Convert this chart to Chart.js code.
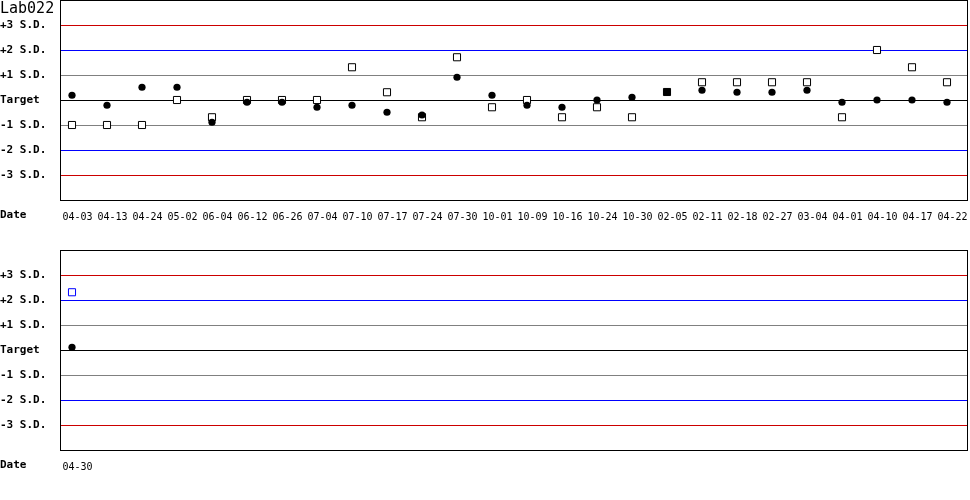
<!DOCTYPE html>
<html>
<head>
<meta charset="utf-8">
<script src="https://cdn.jsdelivr.net/npm/chart.js@4.4.1/dist/chart.umd.min.js"></script>
<style>
  html, body { margin: 0; padding: 0; background: #fff; }
  .box { width: 970px; height: 250px; position: relative; }
  canvas { display: block; }
</style>
</head>
<body>
<div class="box"><canvas id="c1" width="970" height="250"></canvas></div>
<div class="box"><canvas id="c2" width="970" height="250"></canvas></div>
<script>
// ---- data (values in S.D. units) ----
const chartTitle = 'Lab022';
const sdValues = [3, 2, 1, 0, -1, -2, -3];
const sdLabels = ['+3 S.D.', '+2 S.D.', '+1 S.D.', 'Target', '-1 S.D.', '-2 S.D.', '-3 S.D.'];

const datesTop = ['04-03','04-13','04-24','05-02','06-04','06-12','06-26','07-04','07-10','07-17','07-24','07-30','10-01','10-09','10-16','10-24','10-30','02-05','02-11','02-18','02-27','03-04','04-01','04-10','04-17','04-22'];
const level1Top = [0.19,-0.21,0.51,0.51,-0.89,-0.09,-0.09,-0.29,-0.21,-0.49,-0.6,0.91,0.19,-0.21,-0.29,0,0.11,0.32,0.39,0.31,0.31,0.39,-0.09,0,0,-0.09];
const level2Top = [-1,-1,-1,0,-0.69,0,0,0,1.31,0.31,-0.69,1.71,-0.29,0,-0.69,-0.29,-0.69,0.32,0.71,0.71,0.71,0.71,-0.69,2.0,1.31,0.71];

const datesBottom = ['04-30'];
const level1Bottom = [0.11];
const level2Bottom = [2.31];

// ---- drawing ----
const MONO = '"DejaVu Sans Mono", "Liberation Mono", monospace';
function gridColor(v) {
  const a = Math.abs(v);
  if (a === 3) return '#cc0000';
  if (a === 2) return '#0000ff';
  if (a === 1) return '#808080';
  return '#000000';
}

function makeChart(id, dates, l1, l2, opts) {
  const frame = {
    id: 'frame' + id,
    beforeDatasetsDraw(chart) {
      const ctx = chart.ctx, a = chart.chartArea, ys = chart.scales.y;
      ctx.save();
      ctx.lineWidth = 1;
      sdValues.forEach(v => {
        const y = Math.round(ys.getPixelForValue(v)) + 0.5;
        ctx.strokeStyle = gridColor(v);
        ctx.beginPath();
        ctx.moveTo(a.left, y);
        ctx.lineTo(a.right, y);
        ctx.stroke();
      });
      ctx.restore();
    },
    afterDraw(chart) {
      const ctx = chart.ctx, a = chart.chartArea;
      ctx.save();
      ctx.strokeStyle = '#000';
      ctx.lineWidth = 1;
      ctx.strokeRect(Math.round(a.left) + 0.5, Math.round(a.top) + 0.5,
                     Math.round(a.right - a.left) - 1, Math.round(a.bottom - a.top));
      ctx.fillStyle = '#000';
      ctx.textAlign = 'left';
      ctx.textBaseline = 'middle';
      ctx.font = 'bold 11px ' + MONO;
      ctx.fillText('Date', 0, a.bottom + 15);
      if (opts.title) {
        ctx.font = '15px ' + MONO;
        ctx.textBaseline = 'alphabetic';
        ctx.fillText(opts.title, 0, 13);
      }
      ctx.restore();
    }
  };
  return new Chart(document.getElementById(id), {
    type: 'scatter',
    data: {
      datasets: [
        {
          data: l1.map((v, i) => ({ x: i, y: v })),
          pointStyle: 'circle',
          pointRadius: 3.6,
          backgroundColor: '#000',
          borderColor: '#000',
          borderWidth: 0
        },
        {
          data: l2.map((v, i) => ({ x: i, y: v })),
          pointStyle: 'rect',
          pointRadius: 5,
          backgroundColor: (c) => (opts.filledIndex === c.dataIndex ? '#000' : '#fff'),
          borderColor: opts.squareColor,
          borderWidth: 1
        }
      ]
    },
    options: {
      responsive: false,
      animation: false,
      events: [],
      layout: { autoPadding: false, padding: { left: 0, right: 2, top: 0, bottom: 0 } },
      plugins: { legend: { display: false }, tooltip: { enabled: false }, title: { display: false } },
      scales: {
        x: {
          type: 'linear',
          min: -12 / 35,
          max: 896 / 35,
          afterBuildTicks: (axis) => { axis.ticks = dates.map((_, i) => ({ value: i })); },
          afterFit: (axis) => { axis.height = 50; axis.paddingLeft = 0; axis.paddingRight = 0; },
          grid: { display: false, drawTicks: false },
          border: { display: false },
          ticks: {
            autoSkip: false,
            maxRotation: 0,
            minRotation: 0,
            labelOffset: 5.5,
            padding: 11,
            color: '#000',
            font: { family: MONO, size: 10 },
            callback: (v) => dates[v] ?? ''
          }
        },
        y: {
          min: -4,
          max: 4,
          afterBuildTicks: (axis) => { axis.ticks = [-4, -3, -2, -1, 0, 1, 2, 3, 4].map(v => ({ value: v })); },
          afterFit: (axis) => { axis.width = 60; axis.paddingTop = 0; axis.paddingBottom = 0; },
          grid: { display: false, drawTicks: false },
          border: { display: false },
          ticks: {
            crossAlign: 'far',
            padding: 0,
            color: '#000',
            font: { family: MONO, size: 11, weight: 'bold' },
            callback: (v) => { const k = sdValues.indexOf(v); return k >= 0 ? sdLabels[k] : ''; }
          }
        }
      }
    },
    plugins: [frame]
  });
}

makeChart('c1', datesTop, level1Top, level2Top, { title: chartTitle, squareColor: '#000', filledIndex: 17 });
makeChart('c2', datesBottom, level1Bottom, level2Bottom, { title: null, squareColor: '#0000ff', filledIndex: -1 });
</script>
</body>
</html>
